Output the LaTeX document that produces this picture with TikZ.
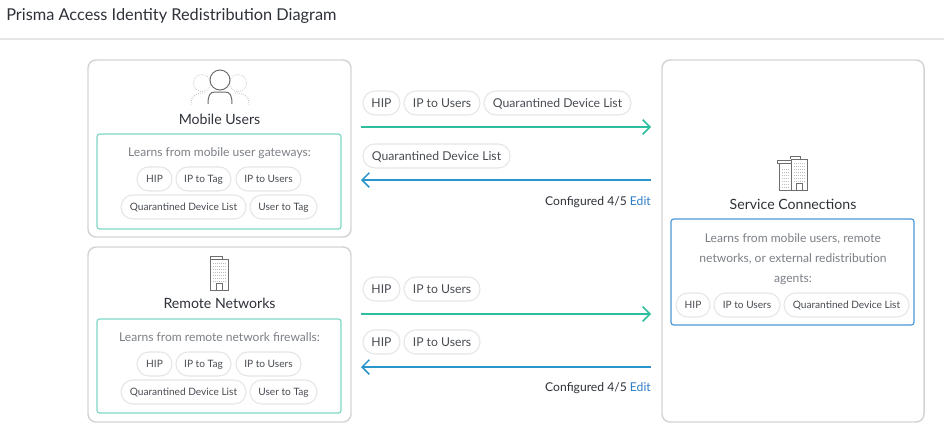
\documentclass[tikz,border=0pt]{standalone}
\usepackage{fontspec}
\setmainfont{Lato}
\usetikzlibrary{arrows.meta}
\definecolor{cardline}{HTML}{D4D4D4}
\definecolor{chipline}{HTML}{E6E6E6}
\definecolor{teal1}{HTML}{7FD6C4}
\definecolor{teal2}{HTML}{2DBE9F}
\definecolor{blue1}{HTML}{4A98D8}
\definecolor{blue2}{HTML}{2A95C9}
\definecolor{linkblue}{HTML}{2F7FC8}
\definecolor{textdark}{HTML}{2E3238}
\definecolor{textgrey}{HTML}{7C8086}
\definecolor{chiptext}{HTML}{484C52}
\definecolor{iconline}{HTML}{6E6E6E}
\definecolor{iconlight}{HTML}{BEBEBE}
\newcommand{\fs}[1]{\fontsize{#1}{#1}\selectfont}
\tikzset{
  x=0.75pt,y=-0.75pt,
  card/.style={draw=cardline,line width=1.1pt,rounded corners=6pt,fill=white},
  tealbox/.style={draw=teal1,line width=0.9pt,rounded corners=2pt},
  bluebox/.style={draw=blue1,line width=0.9pt,rounded corners=2pt},
  chipbox/.style={draw=chipline,line width=0.8pt,rounded corners=8.9pt},
  fixedtxt/.style={inner sep=0pt,text height=5.8pt,text depth=1.8pt},
  chiptxt/.style={fixedtxt,text=chiptext,font=\fs{7.6},yshift=-0.9pt},
  chiptxtb/.style={fixedtxt,text=chiptext,font=\fs{9.15},yshift=-1.7pt},
  heading/.style={fixedtxt,text=textdark,font=\fs{10.6},yshift=-2.2pt},
  learn/.style={fixedtxt,text=textgrey,font=\fs{9.05},yshift=-1.5pt},
  conf/.style={fixedtxt,text=textdark,font=\fs{9.1},yshift=-1.5pt},
  greenarrow/.style={draw=teal2,line width=1.1pt,-{Straight Barb[length=5.5pt,width=11pt,line width=1.1pt]}},
  bluearrow/.style={draw=blue2,line width=1.1pt,-{Straight Barb[length=5.5pt,width=11pt,line width=1.1pt]}},
  icon/.style={draw=iconline,line width=0.75pt},
  icondot/.style={draw=iconlight,line width=0.55pt,densely dotted},
}
\newcommand{\chip}[6][chiptxt]{% style, name, x1, x2, yc, text
  \draw[chipbox] (#3,#5-12) rectangle (#4,#5+12);
  \node[#1] (#2) at ({(#3+#4)/2},#5) {#6};
}
\begin{document}
\begin{tikzpicture}
\useasboundingbox (0,0) rectangle (944,433);
\fill[white] (0,0) rectangle (944,433);
\node[fixedtxt,anchor=west,text=textdark,font=\fs{12.25},yshift=-2.2pt] (title) at (6,15) {Prisma Access Identity Redistribution Diagram};
\draw[draw=chipline,line width=0.8pt] (0,39) -- (944,39);

% cards
\draw[card] (88,60) rectangle (351,237);
\draw[card] (88,247) rectangle (351,422);
\draw[card] (662,60) rectangle (924,422);

% Mobile users
\draw[icondot] (202,83) circle (8.5);
\draw[icondot] (238,83) circle (8.5);
\draw[icondot] (191,105) .. controls (191,96) and (195,93) .. (205,93);
\draw[icondot] (249,105) .. controls (249,96) and (245,93) .. (235,93);
\draw[icon] (220,80) circle (10);
\draw[icon] (208,104) .. controls (208,95) and (210,92) .. (215,92) -- (225,92) .. controls (230,92) and (232,95) .. (232,104);
\node[heading] (mu) at (219.5,119) {Mobile Users};
\draw[tealbox] (97,134) rectangle (341,229);
\node[learn] (mul) at (219.5,152) {Learns from mobile user gateways:};
\chip{a1}{137}{172}{179}{HIP}
\chip{a2}{176}{231}{179}{IP to Tag}
\chip{a3}{236}{301}{179}{IP to Users}
\chip{a4}{121}{246}{207}{Quarantined Device List}
\chip{a5}{250}{317}{207}{User to Tag}

% Remote networks
\foreach \yy in {263,266,...,281}{\draw[icondot] (213,\yy) -- (225.5,\yy);}
\draw[icon] (210,259) rectangle (228,290);
\draw[icon] (210,259) -- (210,256) -- (222,256) -- (222,259);
\draw[icon] (216,290) rectangle (222,283);
\node[heading] (rn) at (219.5,303) {Remote Networks};
\draw[tealbox] (97,319) rectangle (341,413);
\node[learn] (rnl) at (219.5,337) {Learns from remote network firewalls:};
\chip{b1}{137}{172}{364}{HIP}
\chip{b2}{176}{231}{364}{IP to Tag}
\chip{b3}{236}{301}{364}{IP to Users}
\chip{b4}{121}{246}{392}{Quarantined Device List}
\chip{b5}{250}{317}{392}{User to Tag}

% Service connections
\foreach \yy in {163,166,...,181}{\draw[icondot] (794,\yy) -- (804.5,\yy);}
\foreach \yy in {169,172,...,187}{\draw[icondot] (781.5,\yy) -- (788.5,\yy);}
\draw[icon] (779,163) rectangle (791,190);
\draw[icon] (791,159) rectangle (807,190);
\draw[icon] (790,159) -- (790,156) -- (800,156) -- (800,159);
\draw[icon] (779,163) -- (777,163) -- (777,160) -- (791,160);
\draw[icon] (796,190) rectangle (802,183);
\node[heading] (sc) at (793,204) {Service Connections};
\draw[bluebox] (671,219) rectangle (914,325);
\node[learn] (l1) at (793,237.5) {Learns from mobile users, remote};
\node[learn] (l2) at (793,258) {networks, or external redistribution};
\node[learn] (l3) at (793,278) {agents:};
\chip{c1}{676}{710}{305}{HIP}
\chip{c2}{714}{780}{305}{IP to Users}
\chip{c3}{784}{909}{305}{Quarantined Device List}

% Middle upper
\chip[chiptxtb]{d1}{363}{400}{103}{HIP}
\chip[chiptxtb]{d2}{404}{480}{103}{IP to Users}
\chip[chiptxtb]{d3}{484}{631}{103}{Quarantined Device List}
\coordinate (g1a) at (361,127); \coordinate (g1b) at (651,127);
\draw[greenarrow] (g1a) -- (g1b);
\chip[chiptxtb]{e1}{363}{510}{156}{Quarantined Device List}
\coordinate (h1a) at (651,180); \coordinate (h1b) at (361,180);
\draw[bluearrow] (h1a) -- (h1b);
\node[conf,anchor=east] (cf1) at (651,200.5) {Configured 4/5 \textcolor{linkblue}{Edit}};

% Middle lower
\chip[chiptxtb]{f1}{363}{400}{289}{HIP}
\chip[chiptxtb]{f2}{404}{480}{289}{IP to Users}
\coordinate (g2a) at (361,314); \coordinate (g2b) at (651,314);
\draw[greenarrow] (g2a) -- (g2b);
\chip[chiptxtb]{k1}{363}{400}{342}{HIP}
\chip[chiptxtb]{k2}{404}{480}{342}{IP to Users}
\coordinate (h2a) at (651,367); \coordinate (h2b) at (361,367);
\draw[bluearrow] (h2a) -- (h2b);
\node[conf,anchor=east] (cf2) at (651,387) {Configured 4/5 \textcolor{linkblue}{Edit}};
\end{tikzpicture}
\end{document}
